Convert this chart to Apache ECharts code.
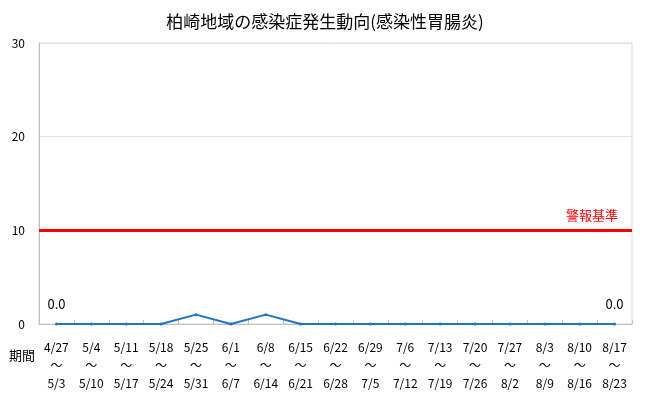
<!DOCTYPE html>
<html>
<head>
<meta charset="utf-8">
<script src="https://cdn.jsdelivr.net/npm/echarts@6/dist/echarts.min.js"></script>
<style>
html, body { margin: 0; padding: 0; background: #fff; }
#main { width: 650px; height: 406px; }
</style>
</head>
<body>
<div id="main"></div>
<script>
var startDays = ['4/27', '5/4', '5/11', '5/18', '5/25', '6/1', '6/8', '6/15', '6/22', '6/29', '7/6', '7/13', '7/20', '7/27', '8/3', '8/10', '8/17'];
var endDays = ['5/3', '5/10', '5/17', '5/24', '5/31', '6/7', '6/14', '6/21', '6/28', '7/5', '7/12', '7/19', '7/26', '8/2', '8/9', '8/16', '8/23'];
var cases = [0, 0, 0, 0, 1, 0, 1, 0, 0, 0, 0, 0, 0, 0, 0, 0, 0];
var alertLevel = 10;

var font = '"Noto Sans CJK JP", "Noto Sans", sans-serif';
var categories = [];
for (var i = 0; i < startDays.length; i++) {
	categories.push(startDays[i] + '\n～\n' + endDays[i]);
}

var myChart = echarts.init(document.getElementById('main'));
var option = {
	animation: false,
	title: {
		text: '柏崎地域の感染症発生動向(感染性胃腸炎)',
		left: 'center',
		top: 8,
		textStyle: { fontFamily: font, fontSize: 17, fontWeight: 'normal', color: '#000' }
	},
	grid: { left: 39, right: 18, top: 43, bottom: 82, show: true, borderColor: '#d9d9d9', borderWidth: 1 },
	graphic: [{
		type: 'text',
		left: 9,
		top: 349,
		style: { text: '期間', fontFamily: font, fontSize: 13, fill: '#000' }
	}],
	xAxis: {
		type: 'category',
		data: categories,
		axisLine: { lineStyle: { color: '#bfbfbf' } },
		axisTick: { show: true, inside: true, length: 4, lineStyle: { color: '#bfbfbf' } },
		axisLabel: { interval: 0, fontFamily: font, fontSize: 12, color: '#000', lineHeight: 18, margin: 14 }
	},
	yAxis: {
		type: 'value',
		min: 0,
		max: 30,
		interval: 10,
		axisLine: { show: true, lineStyle: { color: '#bfbfbf' } },
		axisTick: { show: false },
		splitLine: { lineStyle: { color: '#e3e3e3' } },
		axisLabel: { fontFamily: font, fontSize: 12, color: '#000', margin: 14 }
	},
	series: [{
		name: '感染性胃腸炎',
		type: 'line',
		data: cases,
		symbol: 'circle',
		symbolSize: 3,
		lineStyle: { color: '#1f72c4', width: 2 },
		itemStyle: { color: '#1f72c4' },
		label: {
			show: true,
			position: 'top',
			distance: 12,
			fontFamily: font,
			fontSize: 13,
			color: '#000',
			formatter: function (p) {
				return (p.dataIndex === 0 || p.dataIndex === cases.length - 1) ? p.value.toFixed(1) : '';
			}
		},
		markLine: {
			silent: true,
			symbol: 'none',
			lineStyle: { color: '#ff0000', width: 3, type: 'solid' },
			label: {
				position: 'insideEndTop',
				formatter: '警報基準',
				fontFamily: font,
				fontSize: 13,
				color: '#ff0000',
				distance: [14, 9]
			},
			data: [{ yAxis: alertLevel }]
		}
	}]
};
myChart.setOption(option);
</script>
</body>
</html>
